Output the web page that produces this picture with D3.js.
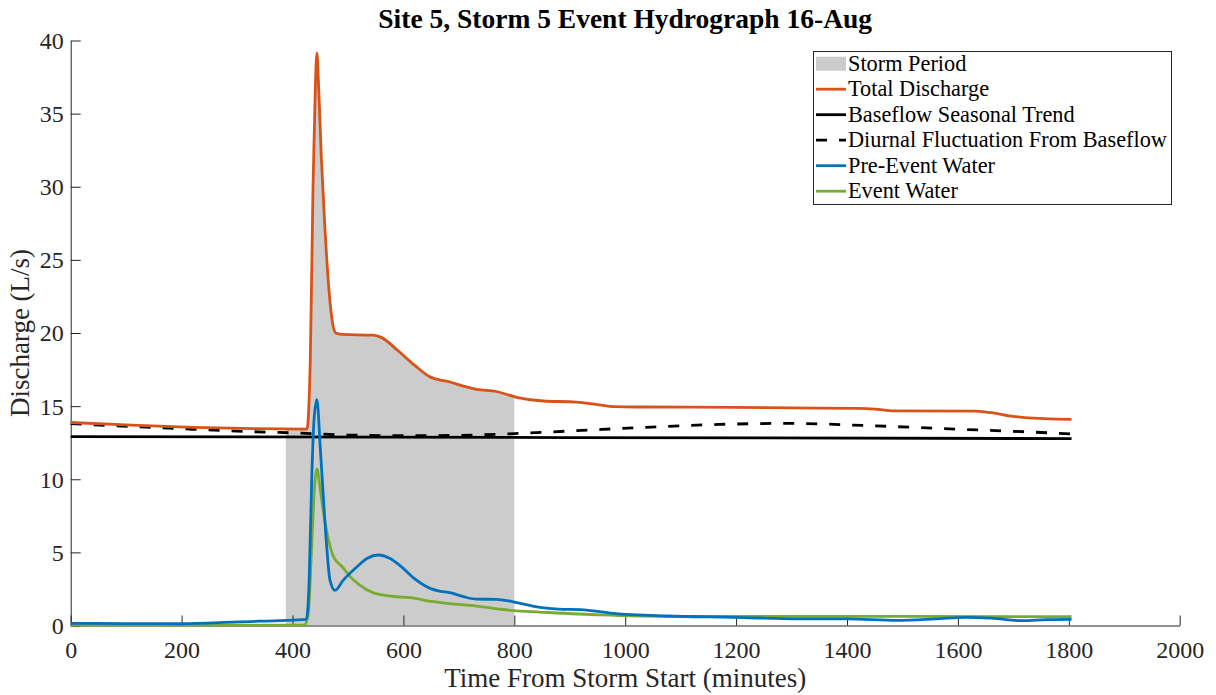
<!DOCTYPE html>
<html>
<head>
<meta charset="utf-8">
<script src="https://cdn.jsdelivr.net/npm/d3@7"></script>
<style>
  html, body { margin: 0; padding: 0; background: #fff; }
  svg { display: block; }
  svg text { font-family: "Liberation Serif", "Times New Roman", serif; }
</style>
</head>
<body>
<svg id="chart" width="1216" height="695"></svg>
<script>
// Hydrograph series: [minutes from storm start, discharge L/s]
const totalDischarge = [
  [0,13.88],[110,13.7],[221,13.55],[330,13.46],[426,13.43],[432,18],[437,30],[441,36.5],
  [444,39.15],[447,37],[452,32],[458,27.5],[464,23.8],[471,21],[478,20.0],[490,19.9],
  [545,19.85],[560,19.7],[590,18.8],[620,17.8],[648,17.0],[665,16.8],[684,16.65],
  [710,16.35],[732,16.15],[768,16.0],[804,15.6],[852,15.35],[912,15.28],[950,15.1],
  [980,14.96],[1030,14.94],[1200,14.92],[1300,14.88],[1420,14.85],[1450,14.8],
  [1485,14.67],[1630,14.66],[1660,14.55],[1700,14.3],[1720,14.22],[1805,14.1]
];
const baseflowTrend = [[0,12.92],[900,12.85],[1805,12.78]];
const diurnalFluctuation = [
  [0,13.8],[110,13.6],[220,13.42],[330,13.25],[425,13.14],[500,13.02],[600,12.98],
  [700,13.0],[800,13.12],[900,13.3],[1027,13.53],[1170,13.75],[1297,13.82],
  [1430,13.68],[1600,13.42],[1700,13.28],[1805,13.1]
];
const preEventWater = [
  [0,0.15],[100,0.13],[200,0.12],[300,0.25],[425,0.42],[430,3],[434.6,9.95],[438.8,14.05],
  [444,15.45],[450,12.2],[455.6,8.8],[461.7,5.4],[467.6,3.1],[476.6,2.4],[491.6,3.1],
  [515.8,4.0],[535,4.6],[555,4.82],[575,4.6],[594,4.1],[620,3.2],[648,2.54],[665,2.35],
  [684,2.24],[710,1.95],[732,1.8],[768,1.79],[798,1.62],[846,1.24],[880,1.12],[920,1.08],
  [978,0.83],[1075,0.65],[1195,0.56],[1315,0.45],[1400,0.45],[1490,0.35],[1560,0.45],
  [1616,0.56],[1660,0.5],[1717,0.33],[1760,0.4],[1805,0.42]
];
const eventWater = [
  [0,0.02],[200,0.02],[422,0.03],[428.5,0.83],[434.6,5.4],[439.4,9.3],[444,10.7],[450,9.3],
  [456,7.7],[465,5.85],[474,4.7],[490,4.0],[504,3.34],[520,2.8],[545,2.25],[580,2.0],
  [612,1.9],[654,1.63],[684,1.5],[732,1.33],[774,1.12],[798,1.02],[846,0.92],[955,0.72],
  [1075,0.62],[1300,0.63],[1500,0.62],[1805,0.6]
];
const stormPeriod = [388, 800];
const xTicks = [0,200,400,600,800,1000,1200,1400,1600,1800,2000];
const yTicks = [0,5,10,15,20,25,30,35,40];
const legendLabels = ["Storm Period","Total Discharge","Baseflow Seasonal Trend",
  "Diurnal Fluctuation From Baseflow","Pre-Event Water","Event Water"];

const colors = {
  storm: "#cccccc",
  total: "#D95319",
  base: "#000000",
  diurnal: "#000000",
  pre: "#0072BD",
  event: "#77AC30"
};

const FONT = "'Liberation Serif', 'Times New Roman', serif";
const svg = d3.select("#chart");
const margin = {left: 70.7, right: 36.3, top: 40.5, bottom: 69.5};
const W = 1216, H = 695;

const x = d3.scaleLinear().domain([0, 2000]).range([margin.left, W - margin.right]);
const y = d3.scaleLinear().domain([0, 40]).range([H - margin.bottom, margin.top]);

const line = d3.line().x(d => x(d[0])).y(d => y(d[1])).curve(d3.curveMonotoneX);
const area = d3.area().x(d => x(d[0])).y0(y(0)).y1(d => y(d[1])).curve(d3.curveMonotoneX);

// storm window: area under total discharge, clipped to the storm period
svg.append("clipPath").attr("id", "stormClip")
  .append("rect")
  .attr("x", x(stormPeriod[0])).attr("y", y(40))
  .attr("width", x(stormPeriod[1]) - x(stormPeriod[0]))
  .attr("height", y(0) - y(40));

svg.append("path").datum(totalDischarge)
  .attr("d", area).attr("fill", colors.storm)
  .attr("clip-path", "url(#stormClip)");

// axes (ticks pointing inward)
const axisColor = "#262626";
const xAxis = svg.append("g").attr("transform", `translate(0,${y(0)})`)
  .call(d3.axisBottom(x).tickValues(xTicks).tickFormat(d3.format("d"))
    .tickSizeInner(-10).tickSizeOuter(0).tickPadding(15));
const yAxis = svg.append("g").attr("transform", `translate(${x(0)},0)`)
  .call(d3.axisLeft(y).tickValues(yTicks).tickFormat(d3.format("d"))
    .tickSizeInner(-10).tickSizeOuter(0).tickPadding(7));
[xAxis, yAxis].forEach(g => {
  g.attr("font-family", FONT).attr("font-size", 24);
  g.select(".domain").attr("stroke", axisColor).attr("stroke-width", 1);
  g.selectAll(".tick line").attr("stroke", axisColor).attr("stroke-width", 1);
  g.selectAll(".tick text").attr("fill", "#262626")
    .attr("font-family", FONT).attr("font-size", 24);
});
xAxis.selectAll(".tick text").attr("dy", "0.71em");
yAxis.selectAll(".tick text").attr("dy", "0.33em");

// series lines
const series = [
  {data: baseflowTrend, color: colors.base, dash: null},
  {data: diurnalFluctuation, color: colors.diurnal, dash: "11,12"},
  {data: totalDischarge, color: colors.total, dash: null},
  {data: eventWater, color: colors.event, dash: null},
  {data: preEventWater, color: colors.pre, dash: null}
];
series.forEach(s => {
  svg.append("path").datum(s.data)
    .attr("d", line)
    .attr("fill", "none")
    .attr("stroke", s.color)
    .attr("stroke-width", 2.8)
    .attr("stroke-linejoin", "round")
    .attr("stroke-dasharray", s.dash);
});

// title and axis labels
svg.append("text")
  .attr("x", (x(0) + x(2000)) / 2).attr("y", 28)
  .attr("text-anchor", "middle")
  .attr("font-family", FONT).attr("font-size", 27.5).attr("font-weight", "bold")
  .attr("fill", "#000")
  .text("Site 5, Storm 5 Event Hydrograph 16-Aug");

svg.append("text")
  .attr("x", (x(0) + x(2000)) / 2).attr("y", 687)
  .attr("text-anchor", "middle")
  .attr("font-family", FONT).attr("font-size", 27).attr("fill", "#262626")
  .text("Time From Storm Start (minutes)");

svg.append("text")
  .attr("transform", `translate(29,${(y(0) + y(40)) / 2}) rotate(-90)`)
  .attr("text-anchor", "middle")
  .attr("font-family", FONT).attr("font-size", 27).attr("fill", "#262626")
  .text("Discharge (L/s)");

// legend
const legend = svg.append("g");
legend.append("rect")
  .attr("x", 813.5).attr("y", 51.5).attr("width", 358).attr("height", 153)
  .attr("fill", "#fff").attr("stroke", "#262626").attr("stroke-width", 1);

const legendStyles = [
  {type: "rect", color: colors.storm},
  {type: "line", color: colors.total},
  {type: "line", color: colors.base},
  {type: "line", color: colors.diurnal, dash: "11,12"},
  {type: "line", color: colors.pre},
  {type: "line", color: colors.event}
];
legendLabels.forEach((label, i) => {
  const base = 70.7 + i * 25.5;
  const st = legendStyles[i];
  if (st.type === "rect") {
    legend.append("rect").attr("x", 816).attr("y", base - 14)
      .attr("width", 30).attr("height", 14).attr("fill", st.color);
  } else {
    legend.append("line")
      .attr("x1", 816).attr("x2", 846)
      .attr("y1", base - 7).attr("y2", base - 7)
      .attr("stroke", st.color).attr("stroke-width", 2.8)
      .attr("stroke-dasharray", st.dash || null);
  }
  legend.append("text").attr("x", 848).attr("y", base)
    .attr("font-family", FONT).attr("font-size", 22.3).attr("fill", "#000").text(label);
});
</script>
</body>
</html>
